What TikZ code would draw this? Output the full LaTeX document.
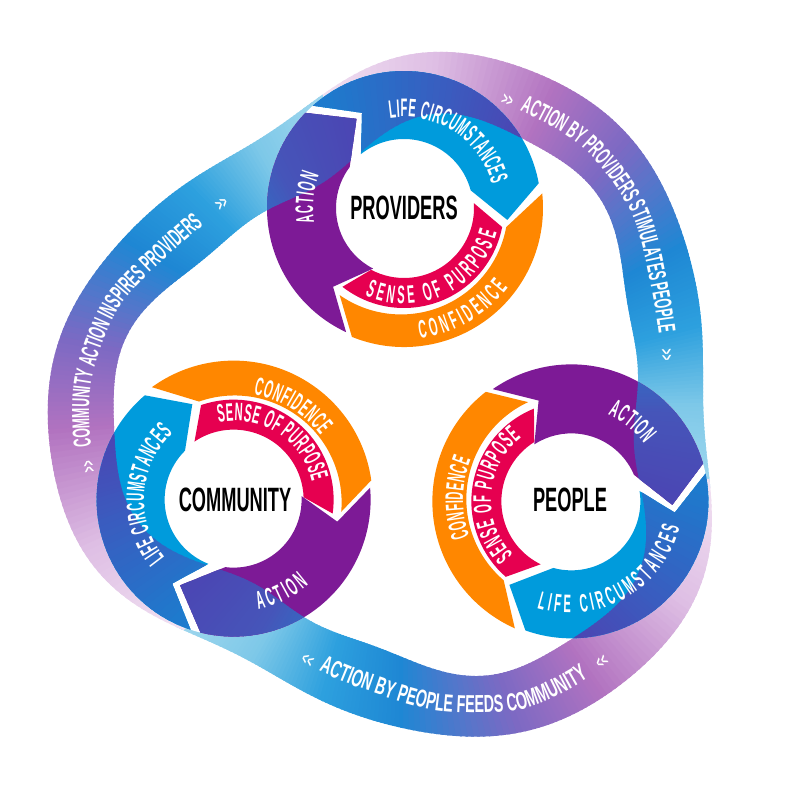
\documentclass[tikz,border=0pt]{standalone}
\usepackage{fontspec}
\usetikzlibrary{decorations.text}

\newfontfamily\condfont[FakeStretch=0.50]{Liberation Sans Bold}
\newfontfamily\condring[FakeStretch=0.44]{Liberation Sans Bold}
\newfontfamily\condbold[FakeStretch=0.54]{Liberation Sans Bold}
\newfontfamily\condwide[FakeStretch=0.58]{Liberation Sans Bold}
\newcommand{\hubfont}{\condbold\fontsize{9.6}{11}\selectfont}
\newcommand{\ringfont}{\condring\fontsize{7.2}{8}\selectfont\color{white}}
\newcommand{\bandfonta}{\condfont\fontsize{7.0}{8}\selectfont\color{white}}
\newcommand{\bandfontc}{\condwide\fontsize{7.0}{8}\selectfont\color{white}}
\newcommand{\chevfont}{\condbold\fontsize{5}{8}\selectfont\color{white}}

% Band colours, start of a band to its end
\definecolor{bandA}{RGB}{242,226,242}
\definecolor{bandB}{RGB}{222,190,228}
\definecolor{bandC}{RGB}{178,115,192}
\definecolor{bandD}{RGB}{125,105,195}
\definecolor{bandE}{RGB}{30,135,212}
\definecolor{bandF}{RGB}{45,160,222}
\definecolor{bandG}{RGB}{125,200,232}
\definecolor{bandH}{RGB}{160,215,238}
% Where a band lies over a wheel
\definecolor{overA}{RGB}{30,122,205}
\definecolor{overB}{RGB}{60,90,190}
\definecolor{overC}{RGB}{76,68,178}
\definecolor{overD}{RGB}{45,115,200}
\definecolor{overE}{RGB}{70,85,185}
% Wheel colours
\definecolor{actionc}{RGB}{125,26,150}
\definecolor{lifec}{RGB}{0,155,220}
\definecolor{confc}{RGB}{255,135,0}
\definecolor{sensec}{RGB}{230,0,80}

% Fan of wedges from the middle of the loop: #1 is a list of colour/colour/angle/angle
\newcommand{\fan}[1]{%
  \foreach \ca/\cb/\from/\to in {#1} {
    \foreach \p in {0,...,19} {
      \pgfmathsetmacro{\a}{\from+(\to-\from)*\p/20}
      \pgfmathsetmacro{\b}{\from+(\to-\from)*(\p+1.5)/20}
      \pgfmathsetmacro{\mix}{\p*5}
      \fill[\cb!\mix!\ca] (0,0) -- (\a:560) -- (\b:560) -- cycle;
    }
  }%
}

% Text on an arc: centre, start angle, end angle, radius, text
\newcommand{\ringtext}[5]{%
  \path[decorate,decoration={text along path,text align={fit to path},
    text={|\ringfont|#5}}]
    (#1) ++(#2:#4) arc[start angle=#2,end angle=#3,radius=#4];%
}

% Text along a band: list of angles, offset of the base line, font, text
\newcommand{\tracktext}[4]{%
  \path[decorate,decoration={text along path,text align=center,
    text={|#3|#4}}]
    plot[smooth,samples at={#1},variable=\x] ({\x}:{rmid(\x)+(#2)});%
}

% The small chevrons of a band: first angle, last angle, offset, text
\newcommand{\chevtext}[4]{%
  \path[decorate,decoration={text along path,text align=center,
    text={|\chevfont|#4}}]
    plot[samples at={#1,#2},variable=\x] ({\x}:{rmid(\x)+(#3)});%
}

\begin{document}
\begin{tikzpicture}[x=0.01cm,y=0.01cm,
  declare function={
    rout(\t)=331.9-26.8*cos(3*\t)-9.04*sin(3*\t)-4.25*cos(6*\t)+0.5*sin(6*\t)-0.67*cos(9*\t)+1.96*sin(9*\t);
    rinn(\t)=264.4-30.8*cos(3*\t)-8.8*sin(3*\t)-3*cos(6*\t)+2.25*sin(6*\t)+2.8*cos(9*\t)+4.2*sin(9*\t);
    rmid(\t)=298.15-28.8*cos(3*\t)-8.92*sin(3*\t)-3.6*cos(6*\t)+1.37*sin(6*\t)+1.06*cos(9*\t)+3.08*sin(9*\t);
  }]

% Define styles
\tikzstyle{hub}=[font=\hubfont,inner sep=0pt]
\tikzstyle{wheel}=[shift={(1,195)}]
\tikzstyle{unwheel}=[shift={(-1,-195)}]

% Parameters
\def\bandloop{plot[smooth cycle,samples at={0,3,...,357},variable=\x] (\x:{rout(\x)})
  plot[smooth cycle,samples at={0,3,...,357},variable=\x] (\x:{rinn(\x)})}

\def\actionpiece{(245:137) arc[start angle=245,end angle=136,radius=137] -- (118:101) -- (143:68)
  arc[start angle=143,end angle=243,radius=68] -- (228:106) -- cycle}
\def\lifepiece{(131.7:137) arc[start angle=131.7,end angle=10.4,radius=137] -- (-6.6:104) -- (14.8:69)
  arc[start angle=14.8,end angle=128.6,radius=69] -- (113.8:104) -- cycle}
\def\confpiece{(248:139) arc[start angle=248,end angle=366,radius=139] -- (349.4:104)
  arc[start angle=349.4,end angle=235,radius=107] -- cycle}
\def\sensepiece{(242:70) -- (232:100) arc[start angle=232,end angle=349,radius=100] -- (4:70)
  arc[start angle=4,end angle=-118,radius=70] -- cycle}

\useasboundingbox (-403,-397) rectangle (397,403);

% Draw the three bands
\begin{scope}[even odd rule]
  \clip \bandloop;
  \foreach \rot in {0,-120,-240} {
    \begin{scope}[rotate=\rot]
      \fan{bandA/bandB/106/85,bandB/bandC/85/65,bandC/bandD/65/50,bandD/bandE/50/30,
           bandE/bandF/30/15,bandF/bandG/15/0,bandG/bandH/0/-15}
    \end{scope}
  }
\end{scope}

% Draw the three wheels
\foreach \rot in {0,-120,-240} {
  \begin{scope}[rotate=\rot]
    \fill[white,wheel] (0,0) circle (137);
    \fill[actionc,wheel] \actionpiece;
    \fill[lifec,wheel] \lifepiece;
    \fill[confc,wheel] \confpiece;
    \fill[sensec,wheel] \sensepiece;
    % Band over the arrow heads
    \begin{scope}[even odd rule]
      \clip \bandloop;
      \tikzset{wheel}
      \clip \actionpiece;
      \tikzset{unwheel}
      \fan{overD/overE/132/118,overE/overC/118/98}
    \end{scope}
    \begin{scope}[even odd rule]
      \clip \bandloop;
      \tikzset{wheel}
      \clip \lifepiece;
      \tikzset{unwheel}
      \fan{overA/overA/112/104,overA/overB/104/81,overB/overC/81/66}
    \end{scope}
  \end{scope}
}

% Wheel names
\coordinate (providersc) at (1,195);
\coordinate (peoplec) at (167,-97);
\coordinate (communityc) at (-168,-97);
\node[hub] (providers) at (providersc) {PROVIDERS};
\node[hub] (people) at (peoplec) {PEOPLE};
\node[hub] (community) at (communityc) {COMMUNITY};

% Wheel labels
\ringtext{providersc}{189}{159}{91}{ACTION}
\ringtext{providersc}{99}{15}{91}{LIFE CIRCUMSTANCES}
\ringtext{providersc}{-83}{-37.5}{131}{CONFIDENCE}
\ringtext{providersc}{-114}{-15}{96}{SENSE OF PURPOSE}

\ringtext{peoplec}{66}{37}{93}{ACTION}
\ringtext{peoplec}{-107}{-14}{113}{LIFE CIRCUMSTANCES}
\ringtext{peoplec}{200}{158}{107}{CONFIDENCE}
\ringtext{peoplec}{224}{128}{79}{SENSE OF PURPOSE}

\ringtext{communityc}{219.5}{133}{91}{LIFE CIRCUMSTANCES}
\ringtext{communityc}{-78}{-49}{112}{ACTION}
\ringtext{communityc}{80}{37}{107}{CONFIDENCE}
\ringtext{communityc}{102}{13.4}{79}{SENSE OF PURPOSE}

% Band labels
\begin{scope}[rotate=0]
  \chevtext{73.5}{68.5}{-9}{>>}
  \tracktext{85,70,55,40,25,10,-5}{-9}{\bandfonta}{ACTION BY PROVIDERS STIMULATES PEOPLE}
  \chevtext{13}{8}{-9}{>>}
\end{scope}
\begin{scope}[rotate=120]
  \chevtext{74}{69}{-9}{>>}
  \tracktext{86.35,71.35,56.35,41.35,26.35,11.35,-3.65}{-9}{\bandfonta}{COMMUNITY ACTION INSPIRES PROVIDERS}
  \chevtext{15}{10}{-9}{>>}
\end{scope}
\begin{scope}[rotate=-120]
  \chevtext{7}{12}{9}{<<}
  \tracktext{-8.4,6.6,21.6,36.6,51.6,66.6,81.6}{9}{\bandfontc}{ACTION BY PEOPLE FEEDS COMMUNITY}
  \chevtext{65}{70}{9}{<<}
\end{scope}

\end{tikzpicture}
\end{document}
